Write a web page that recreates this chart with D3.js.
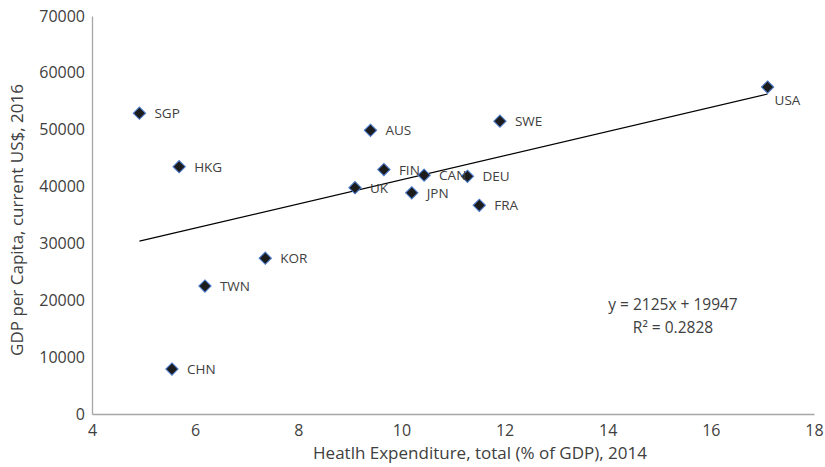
<!DOCTYPE html>
<html>
<head>
<meta charset="utf-8">
<script src="https://cdn.jsdelivr.net/npm/d3@7"></script>
<style>
  html, body { margin: 0; padding: 0; background: #ffffff; }
  svg { display: block; font-family: "Open Sans", "Noto Sans", sans-serif; }
</style>
</head>
<body>
<svg id="chart" width="825" height="467"></svg>
<script>
// Country codes and their values
const countries = ["SGP", "HKG", "CHN", "TWN", "KOR", "UK", "AUS", "FIN", "JPN", "CAN", "DEU", "FRA", "SWE", "USA"];
// Health expenditure, total (% of GDP), 2014
const healthExp = [4.92, 5.69, 5.55, 6.19, 7.36, 9.10, 9.40, 9.66, 10.20, 10.44, 11.28, 11.51, 11.91, 17.10];
// GDP per capita, current US$, 2016
const gdpPerCap = [52900, 43500, 7900, 22500, 27400, 39800, 49900, 43000, 38900, 42000, 41800, 36700, 51500, 57500];

const xTicks = [4, 6, 8, 10, 12, 14, 16, 18];
const yTicks = [0, 10000, 20000, 30000, 40000, 50000, 60000, 70000];

// Linear trend line coefficients
const trendSlope = 2125;
const trendIntercept = 19947;
const trendR2 = 0.2828;

const svg = d3.select("#chart");
const margin = { left: 92, right: 11, top: 16, bottom: 53 };
const W = 825, H = 467;

const x = d3.scaleLinear().domain([4, 18]).range([margin.left, W - margin.right]);
const y = d3.scaleLinear().domain([0, 70000]).range([H - margin.bottom, margin.top]);

const textColor = "#404040";
const axisColor = "#a6a6a6";

// Axes (lines only, no tick marks)
const xAxis = d3.axisBottom(x).tickValues(xTicks).tickSize(0).tickPadding(11).tickFormat(d3.format("d"));
const yAxis = d3.axisLeft(y).tickValues(yTicks).tickSize(0).tickPadding(7).tickFormat(d3.format("d"));

const gx = svg.append("g").attr("transform", `translate(0,${y(0)})`).call(xAxis);
const gy = svg.append("g").attr("transform", `translate(${x(4)},0)`).call(yAxis);

[gx, gy].forEach(g => {
  g.select(".domain").attr("stroke", axisColor).attr("stroke-width", 1.3);
  g.selectAll("text").attr("fill", textColor).style("font-size", "16px")
    .style("font-family", '"Open Sans", sans-serif');
});
gx.selectAll("text").attr("dy", "0.71em");

// Axis titles
svg.append("text")
  .attr("x", 480)
  .attr("y", 459)
  .attr("text-anchor", "middle")
  .attr("fill", textColor)
  .style("font-size", "17px")
  .text("Heatlh Expenditure, total (% of GDP), 2014");

svg.append("text")
  .attr("transform", "translate(23,220) rotate(-90)")
  .attr("text-anchor", "middle")
  .attr("fill", textColor)
  .style("font-size", "17px")
  .text("GDP per Capita, current US$, 2016");

// Trend line across the range of the data
const xMin = d3.min(healthExp), xMax = d3.max(healthExp);
svg.append("line")
  .attr("x1", x(xMin)).attr("y1", y(trendSlope * xMin + trendIntercept))
  .attr("x2", x(xMax)).attr("y2", y(trendSlope * xMax + trendIntercept))
  .attr("stroke", "#000000")
  .attr("stroke-width", 1.2);

// Points
const data = countries.map((c, i) => ({ name: c, hx: healthExp[i], gdp: gdpPerCap[i] }));
const diamond = d3.symbol().type(d3.symbolDiamond2).size(95);

svg.append("g").selectAll("path")
  .data(data)
  .join("path")
  .attr("transform", d => `translate(${x(d.hx)},${y(d.gdp)})`)
  .attr("d", diamond)
  .attr("fill", "#1c1c1c")
  .attr("stroke", "#4a78c8")
  .attr("stroke-width", 1.1);

// Point labels: to the right, or below when close to the right edge
svg.append("g").selectAll("text")
  .data(data)
  .join("text")
  .attr("x", d => x(d.hx) > W - 80 ? x(d.hx) + 7 : x(d.hx) + 15)
  .attr("y", d => x(d.hx) > W - 80 ? y(d.gdp) + 18 : y(d.gdp) + 5)
  .attr("fill", textColor)
  .style("font-size", "13.5px")
  .text(d => d.name);

// Trend equation
const eq = svg.append("text")
  .attr("text-anchor", "middle")
  .attr("fill", textColor)
  .style("font-size", "15.5px");
eq.append("tspan").attr("x", 673).attr("y", 310)
  .text(`y = ${trendSlope}x + ${trendIntercept}`);
eq.append("tspan").attr("x", 673).attr("y", 333)
  .text(`R² = ${trendR2}`);
</script>
</body>
</html>
